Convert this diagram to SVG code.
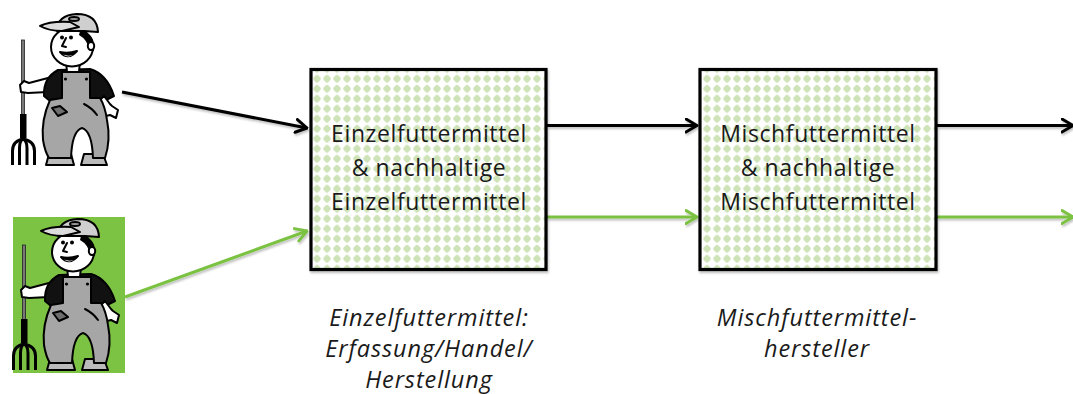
<svg xmlns="http://www.w3.org/2000/svg" xmlns:xlink="http://www.w3.org/1999/xlink" width="1073" height="394" viewBox="0 0 1073 394">
<style>
.box{stroke:#000;stroke-width:3.2;fill:url(#dots)}
.t{font-family:"Open Sans","Noto Sans","Liberation Sans",sans-serif;font-size:23px;letter-spacing:0.6px;fill:#1a1a1a;text-anchor:middle}
.it{font-style:italic;font-size:23.5px;letter-spacing:0.9px}
.ol{stroke:#000;stroke-width:2;stroke-linejoin:round;stroke-linecap:round}
.cb{stroke:#000;stroke-width:3;fill:none}
.cg{stroke:#7cc243;stroke-width:3;fill:none}
</style>
<defs>
<pattern id="dots" patternUnits="userSpaceOnUse" x="2" y="73.7" width="10" height="10">
<rect width="10" height="10" fill="#fff"/>
<rect x="1.8" y="1.8" width="6.4" height="6.4" rx="1.6" fill="#cfe3b8" transform="rotate(45 5 5)"/>
</pattern>
<filter id="sh" x="-5%" y="-20%" width="110%" height="160%">
<feDropShadow dx="1" dy="2" stdDeviation="1.2" flood-color="#000" flood-opacity="0.25"/>
</filter>
<marker id="ab" viewBox="0 0 14 16" refX="12.5" refY="8" markerWidth="14" markerHeight="16" markerUnits="userSpaceOnUse" orient="auto">
<path d="M1.5,1.5 L12.5,8 L1.5,14.5" fill="none" stroke="#000" stroke-width="3" stroke-linecap="round" stroke-linejoin="round"/>
</marker>
<marker id="ag" viewBox="0 0 14 16" refX="12.5" refY="8" markerWidth="14" markerHeight="16" markerUnits="userSpaceOnUse" orient="auto">
<path d="M1.5,1.5 L12.5,8 L1.5,14.5" fill="none" stroke="#7cc243" stroke-width="3" stroke-linecap="round" stroke-linejoin="round"/>
</marker>
<g id="farmer">
<rect x="21.5" y="40" width="3" height="80" fill="#777" stroke="#222" stroke-width="0.8"/>
<rect x="20" y="114" width="6.5" height="24" fill="#000"/>
<path d="M12.5,165 V151 Q12.5,141 23,139 Q34.5,141 34.5,151 V165" class="cb" stroke-width="2.2"/>
<path d="M19.5,165 V148 Q19.5,141 23,139 M27,165 V148 Q27,141 23,139" class="cb" stroke-width="2.2"/>
<path d="M48,78 L29,83 L24,81 L20,85 L21,92 L28,93 L48,92 Z" fill="#fff" class="ol"/>
<path d="M44,96 Q43,78 58,70 L90,69 Q107,74 114,96 L104,101 L50,101 Z" fill="#111" class="ol"/>
<path d="M104,96 L110,104 L112,106 L118,110 L116,118 L110,115 L106,116 Q100,110 100,100 Z" fill="#fff" class="ol"/>
<path d="M49,154 L71,154 L74,165 L46,165 Z" fill="#bbb" class="ol"/>
<path d="M84,154 L103,154 L107,165 L81,165 Z" fill="#bbb" class="ol"/>
<path d="M62,72 L62,98 L50,100 Q41,120 43,140 Q45,152 49,158 L71,158 Q72,131 82,128 Q92,131 93,158 L105,158 Q111,140 107,120 Q105,106 100,98 L90,98 L90,72 Z" fill="#a6a6a6" class="ol" stroke-width="2.4"/>
<circle cx="65.5" cy="79" r="1.6" fill="#000"/>
<circle cx="86.5" cy="79" r="1.6" fill="#000"/>
<path d="M52,108 L60,106 L67,112 L58,116 Z" fill="#6e6e6e" class="ol" stroke-width="1.4"/>
<path d="M84,104 Q92,108 97,115" fill="none" class="ol" stroke-width="1.6"/>
<path d="M66,61 L67,72 L79,72 L80,61 Z" fill="#fff" class="ol"/>
<ellipse cx="72" cy="47" rx="21" ry="19.5" fill="#fff" class="ol" stroke-width="2.6"/>
<path d="M80,31 Q96,33 94,51 L89,50 Q88,40 79,35 Z" fill="#000"/>
<ellipse cx="91" cy="46" rx="3.2" ry="4" fill="#fff" class="ol" stroke-width="1.6"/>
<circle cx="62" cy="37.5" r="2" fill="#000"/>
<circle cx="71" cy="37.5" r="2" fill="#000"/>
<path d="M66,38 L62,46 L66,47" fill="none" class="ol" stroke-width="1.8"/>
<path d="M60,52 Q68,61 77,51 Q68,54 60,52 Z" fill="#000" class="ol" stroke-width="1.2"/>
<path d="M63,54.5 Q68,58 73,55 Q68,56.5 63,54.5 Z" fill="#fff"/>
<path d="M57,31 Q57,15 77,14 Q97,14 98,32 L84,31 Z" fill="#cfcfcf" class="ol" stroke-width="2.2"/>
<path d="M40,26 Q50,21 70,22 L79,27 L62,31 Q49,31 40,26 Z" fill="#dcdcdc" class="ol" stroke-width="2"/>
<ellipse cx="74" cy="19" rx="5" ry="2" fill="#999" class="ol" stroke-width="1.2"/>
</g>
</defs>
<rect width="1073" height="394" fill="#fff"/>

<g id="farmer-conventional">
<use xlink:href="#farmer" href="#farmer"/>
</g>
<g id="farmer-sustainable">
<rect x="13" y="217" width="112" height="156" fill="#7cc243"/>
<use xlink:href="#farmer" href="#farmer" transform="translate(1,205)"/>
</g>

<g id="connectors" filter="url(#sh)">
<line x1="122" y1="92" x2="307" y2="128" class="cb" marker-end="url(#ab)"/>
<line x1="125" y1="297" x2="307" y2="231" class="cg" marker-end="url(#ag)"/>
<line x1="547" y1="125.5" x2="697" y2="125.5" class="cb" marker-end="url(#ab)"/>
<line x1="547" y1="217" x2="697" y2="217" class="cg" marker-end="url(#ag)"/>
<line x1="937" y1="125.5" x2="1073" y2="125.5" class="cb" marker-end="url(#ab)"/>
<line x1="937" y1="217" x2="1073" y2="217" class="cg" marker-end="url(#ag)"/>
</g>

<g id="node-einzelfuttermittel">
<rect x="311" y="69.5" width="235" height="200" class="box" filter="url(#sh)"/>
<text class="t" x="429" y="142">Einzelfuttermittel</text>
<text class="t" x="429" y="176">&amp; nachhaltige</text>
<text class="t" x="429" y="210">Einzelfuttermittel</text>
</g>
<g id="node-mischfuttermittel">
<rect x="700" y="69.5" width="236" height="200" class="box" filter="url(#sh)"/>
<text class="t" x="818" y="142">Mischfuttermittel</text>
<text class="t" x="818" y="176">&amp; nachhaltige</text>
<text class="t" x="818" y="210">Mischfuttermittel</text>
</g>

<g id="label-einzel">
<text class="t it" x="429" y="326">Einzelfuttermittel:</text>
<text class="t it" x="429" y="357">Erfassung/Handel/</text>
<text class="t it" x="429" y="388">Herstellung</text>
</g>
<g id="label-misch">
<text class="t it" x="817" y="326">Mischfuttermittel-</text>
<text class="t it" x="817" y="357">hersteller</text>
</g>
</svg>
